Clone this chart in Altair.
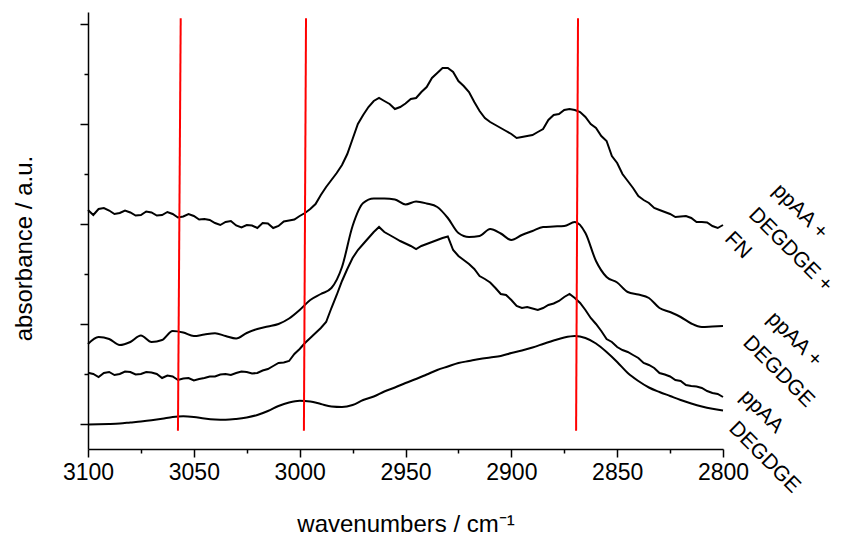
import altair as alt
import pandas as pd

FONT = "Liberation Sans"

# x grid (wavenumbers, cm^-1)
wavenumbers = list(range(3100, 2795, -5))
wavenumbers_half = [w - 2.5 for w in wavenumbers[:-1]]

# DEGDGE (bottom, smooth)
degdge = [-0.005, -0.003, 0.000, 0.005, 0.015, 0.025, 0.037, 0.052, 0.070, 0.077,
          0.070, 0.055, 0.045, 0.042, 0.050, 0.065, 0.090, 0.130, 0.180, 0.215,
          0.232, 0.225, 0.200, 0.175, 0.170, 0.190, 0.240, 0.275, 0.325, 0.365,
          0.410, 0.450, 0.495, 0.540, 0.575, 0.610, 0.630, 0.650, 0.665, 0.680,
          0.710, 0.735, 0.765, 0.800, 0.835, 0.865, 0.880, 0.860, 0.805, 0.720,
          0.620, 0.510, 0.430, 0.365, 0.320, 0.280, 0.240, 0.205, 0.175, 0.152,
          0.135]

# ppAA (noisy)
ppaa = [0.513, 0.47, 0.52, 0.50, 0.52, 0.50, 0.515, 0.46, 0.475, 0.455,
        0.435, 0.46, 0.475, 0.50, 0.51, 0.52, 0.51, 0.55, 0.61, 0.63,
        0.75, 0.86, 0.96, 1.16, 1.43, 1.66, 1.80, 1.92, 1.92, 1.86,
        1.805, 1.75, 1.80, 1.84, 1.875, 1.68, 1.60, 1.48, 1.415, 1.30,
        1.24, 1.16, 1.155, 1.16, 1.205, 1.27, 1.26, 1.14, 1.00, 0.85,
        0.77, 0.72, 0.66, 0.59, 0.51, 0.475, 0.43, 0.38, 0.36, 0.31,
        0.27]
ppaa_half = [0.50, 0.51, 0.49, 0.525, 0.495, 0.52, 0.50, 0.485, 0.44, 0.46,
             0.45, 0.475, 0.495, 0.49, 0.525, 0.505, 0.535, 0.58, 0.615, 0.70,
             0.81, 0.91, 1.02, 1.29, 1.55, 1.74, 1.86, 1.97, 1.89, 1.83,
             1.78, 1.78, 1.82, 1.86, 1.74, 1.64, 1.55, 1.45, 1.36, 1.29,
             1.18, 1.17, 1.14, 1.19, 1.23, 1.30, 1.21, 1.06, 0.93, 0.82,
             0.74, 0.69, 0.61, 0.56, 0.495, 0.44, 0.39, 0.375, 0.33, 0.30]

# ppAA + DEGDGE (smooth)
ppaa_degdge = [0.80, 0.87, 0.85, 0.79, 0.82, 0.885, 0.82, 0.84, 0.93, 0.915,
               0.88, 0.895, 0.907, 0.88, 0.855, 0.91, 0.95, 0.975, 1.00, 1.055,
               1.14, 1.24, 1.30, 1.36, 1.57, 1.98, 2.21, 2.255, 2.255, 2.245,
               2.195, 2.225, 2.205, 2.17, 2.06, 1.91, 1.87, 1.88, 1.95, 1.905,
               1.84, 1.89, 1.93, 1.97, 1.975, 1.98, 2.02, 1.91, 1.63, 1.47,
               1.415, 1.32, 1.295, 1.26, 1.16, 1.12, 1.07, 1.005, 0.97, 0.975,
               0.98]

# ppAA + DEGDGE + FN (top, noisy)
ppaa_degdge_fn = [2.14, 2.15, 2.135, 2.11, 2.115, 2.09, 2.115, 2.09, 2.10, 2.075,
                  2.08, 2.05, 2.01, 2.02, 1.985, 1.99, 1.96, 2.005, 1.98, 2.035,
                  2.08, 2.15, 2.29, 2.44, 2.59, 2.85, 3.09, 3.23, 3.23, 3.15,
                  3.205, 3.26, 3.37, 3.51, 3.56, 3.43, 3.32, 3.13, 3.02, 2.96,
                  2.90, 2.87, 2.89, 2.95, 3.09, 3.14, 3.14, 3.07, 2.96, 2.83,
                  2.61, 2.43, 2.28, 2.21, 2.14, 2.10, 2.075, 2.06, 2.02, 1.98,
                  1.99]
ppaa_degdge_fn_half = [2.09, 2.16, 2.10, 2.135, 2.085, 2.125, 2.085, 2.12, 2.065, 2.10,
                       2.045, 2.04, 1.99, 2.03, 1.965, 1.985, 2.01, 1.96, 2.025, 2.045,
                       2.11, 2.20, 2.37, 2.51, 2.70, 3.00, 3.17, 3.26, 3.20, 3.17,
                       3.25, 3.32, 3.46, 3.56, 3.52, 3.38, 3.22, 3.06, 2.99, 2.93,
                       2.86, 2.88, 2.92, 3.04, 3.10, 3.15, 3.12, 3.00, 2.88, 2.68,
                       2.50, 2.36, 2.24, 2.16, 2.12, 2.07, 2.08, 2.02, 2.015, 1.96]

# red marker lines (top / bottom wavenumber, vertical span)
marker_top = [3056.2, 2997.0, 2868.5]
marker_bottom = [3057.5, 2998.0, 2869.4]
marker_span = [4.057, -0.067]

x_ticks = list(range(3100, 2799, -25))
y_ticks = [i * 0.5 for i in range(9)]


def frame(xs, ys):
    return pd.DataFrame({"w": xs, "a": ys})


def merged(xs, ys, xh, yh):
    df = pd.concat([frame(xs, ys), frame(xh, yh)])
    return df.sort_values("w", ascending=False).reset_index(drop=True)


x_enc = alt.X(
    "w:Q",
    scale=alt.Scale(domain=[3100, 2800], nice=False, zero=False),
    axis=alt.Axis(
        values=x_ticks,
        format="d",
        tickSize={"condition": {"test": "datum.value % 50 === 0", "value": 8}, "value": 4},
        labelExpr="datum.value % 50 === 0 ? datum.label : ''",
        labelFlush=False,
        labelOverlap=False,
        labelPadding=4,
        title="wavenumbers / cm⁻¹",
        titlePadding=28,
    ),
)
y_enc = alt.Y(
    "a:Q",
    scale=alt.Scale(domain=[-0.25, 4.12], nice=False, zero=False),
    axis=alt.Axis(
        values=y_ticks,
        labels=False,
        tickSize={"condition": {"test": "datum.value % 1 === 0", "value": 8}, "value": 4},
        title="absorbance / a.u.",
        titlePadding=43,
        titleY=236,
    ),
)

line_smooth = dict(color="black", strokeWidth=2, interpolate="monotone")
line_noisy = dict(color="black", strokeWidth=2, interpolate="linear")

l_deg = alt.Chart(frame(wavenumbers, degdge)).mark_line(**line_smooth).encode(x=x_enc, y=y_enc)
l_ppaa = alt.Chart(merged(wavenumbers, ppaa, wavenumbers_half, ppaa_half)).mark_line(**line_noisy).encode(x=x_enc, y=y_enc)
l_mix = alt.Chart(frame(wavenumbers, ppaa_degdge)).mark_line(**line_smooth).encode(x=x_enc, y=y_enc)
l_fn = alt.Chart(merged(wavenumbers, ppaa_degdge_fn, wavenumbers_half, ppaa_degdge_fn_half)).mark_line(**line_noisy).encode(x=x_enc, y=y_enc)

markers = pd.DataFrame({
    "w": marker_top,
    "w2": marker_bottom,
    "a": [marker_span[0]] * 3,
    "a2": [marker_span[1]] * 3,
})
rules = alt.Chart(markers).mark_rule(color="#ff0000", strokeWidth=2).encode(
    x=x_enc, x2="w2:Q", y=y_enc, y2="a2:Q"
)

text_style = dict(angle=45, align="left", baseline="top", font=FONT, fontSize=21,
                  lineBreak="\n", lineHeight=34, color="black")


def label(text, value, dx, dy):
    df = pd.DataFrame({"w": [2800], "a": [value], "t": [text]})
    return alt.Chart(df).mark_text(dx=dx, dy=dy, **text_style).encode(x=x_enc, y=y_enc, text="t:N")


t_fn = label("ppAA +\nDEGDGE +\nFN", ppaa_degdge_fn[-1], 11, -75)
t_mix = label("ppAA +\nDEGDGE", ppaa_degdge[-1], 26, -52)
t_ppaa = label("ppAA", ppaa[-1], 12, -28)
t_deg = label("DEGDGE", degdge[-1], 17, -7)

chart = alt.layer(l_deg, l_ppaa, l_mix, l_fn, rules, t_fn, t_mix, t_ppaa, t_deg).properties(
    width=635,
    height=437,
    autosize=alt.AutoSizeParams(type="none"),
    padding={"left": 80, "top": 4, "right": 114, "bottom": 90},
    background="white",
).configure_view(stroke=None).configure_axis(
    grid=False,
    domainColor="black",
    domainWidth=1.5,
    tickColor="black",
    tickWidth=1.5,
    labelFont=FONT,
    labelFontSize=23,
    labelColor="black",
    titleFont=FONT,
    titleFontSize=24,
    titleFontWeight="normal",
    titleColor="black",
)

chart.save("out.html", embed_options={"renderer": "svg", "actions": False})
